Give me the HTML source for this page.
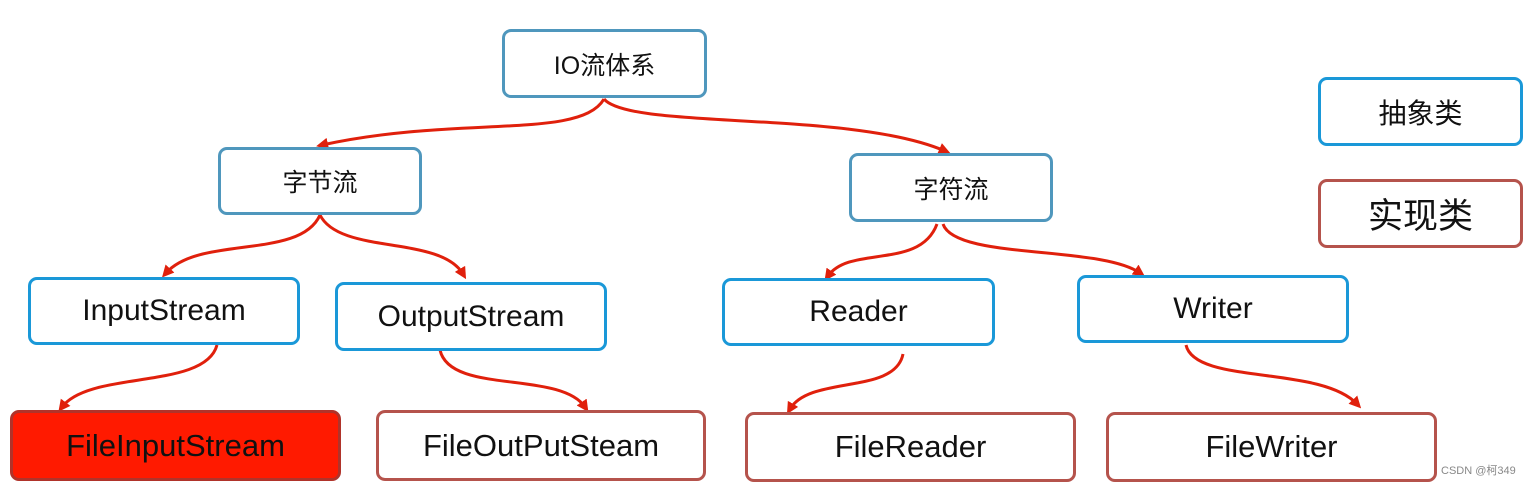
<!DOCTYPE html>
<html><head><meta charset="utf-8"><style>
body{margin:0;width:1533px;height:485px;background:#fff;position:relative;overflow:hidden;font-family:"Liberation Sans","Noto Sans CJK SC",sans-serif;}
.b{position:absolute;box-sizing:border-box;border-radius:9px;display:flex;align-items:center;justify-content:center;color:#111;background:#fff;}
.s{border:3px solid #4f97bd;font-size:25px;}
.a{border:3px solid #1a98d8;font-size:30px;}
.r{border:3px solid #b5534c;font-size:31px;}
svg{position:absolute;left:0;top:0;}
</style></head><body>
<svg width="1533" height="485">
<defs><marker id="m" markerWidth="12" markerHeight="12" refX="6" refY="6" orient="auto" markerUnits="userSpaceOnUse"><path d="M0,0 L12,6 L0,12 z" fill="#e0200c"/></marker></defs>
<g fill="none" stroke="#e0200c" stroke-width="3" marker-end="url(#m)">
<path d="M604,99 C580,140 460,115 322,145"/>
<path d="M604,99 C630,130 850,110 945,151"/>
<path d="M320,215 C300,260 200,235 166,273"/>
<path d="M320,215 C340,255 440,235 463,274"/>
<path d="M937,224 C920,270 850,245 828,276"/>
<path d="M943,224 C955,260 1100,245 1140,273"/>
<path d="M217,345 C205,390 90,370 62,407"/>
<path d="M440,350 C450,395 560,370 585,407"/>
<path d="M903,354 C895,395 810,375 790,409"/>
<path d="M1186,345 C1195,385 1320,365 1357,404"/>
</g></svg>
<div class="b s" style="left:502px;top:29px;width:205px;height:69px">IO流体系</div>
<div class="b s" style="left:218px;top:147px;width:204px;height:68px">字节流</div>
<div class="b s" style="left:849px;top:153px;width:204px;height:69px">字符流</div>
<div class="b a" style="left:28px;top:277px;width:272px;height:68px">InputStream</div>
<div class="b a" style="left:335px;top:282px;width:272px;height:69px">OutputStream</div>
<div class="b a" style="left:722px;top:278px;width:273px;height:68px">Reader</div>
<div class="b a" style="left:1077px;top:275px;width:272px;height:68px">Writer</div>
<div class="b r" style="left:10px;top:410px;width:331px;height:71px;background:#ff1a00;border-color:#b0332a">FileInputStream</div>
<div class="b r" style="left:376px;top:410px;width:330px;height:71px">FileOutPutSteam</div>
<div class="b r" style="left:745px;top:412px;width:331px;height:70px">FileReader</div>
<div class="b r" style="left:1106px;top:412px;width:331px;height:70px">FileWriter</div>
<div class="b a" style="left:1318px;top:77px;width:205px;height:69px;font-size:28px">抽象类</div>
<div class="b r" style="left:1318px;top:179px;width:205px;height:69px;font-size:35px">实现类</div>
<div style="position:absolute;left:1441px;top:462px;font-size:11px;color:#888">CSDN @柯349</div>
</body></html>
